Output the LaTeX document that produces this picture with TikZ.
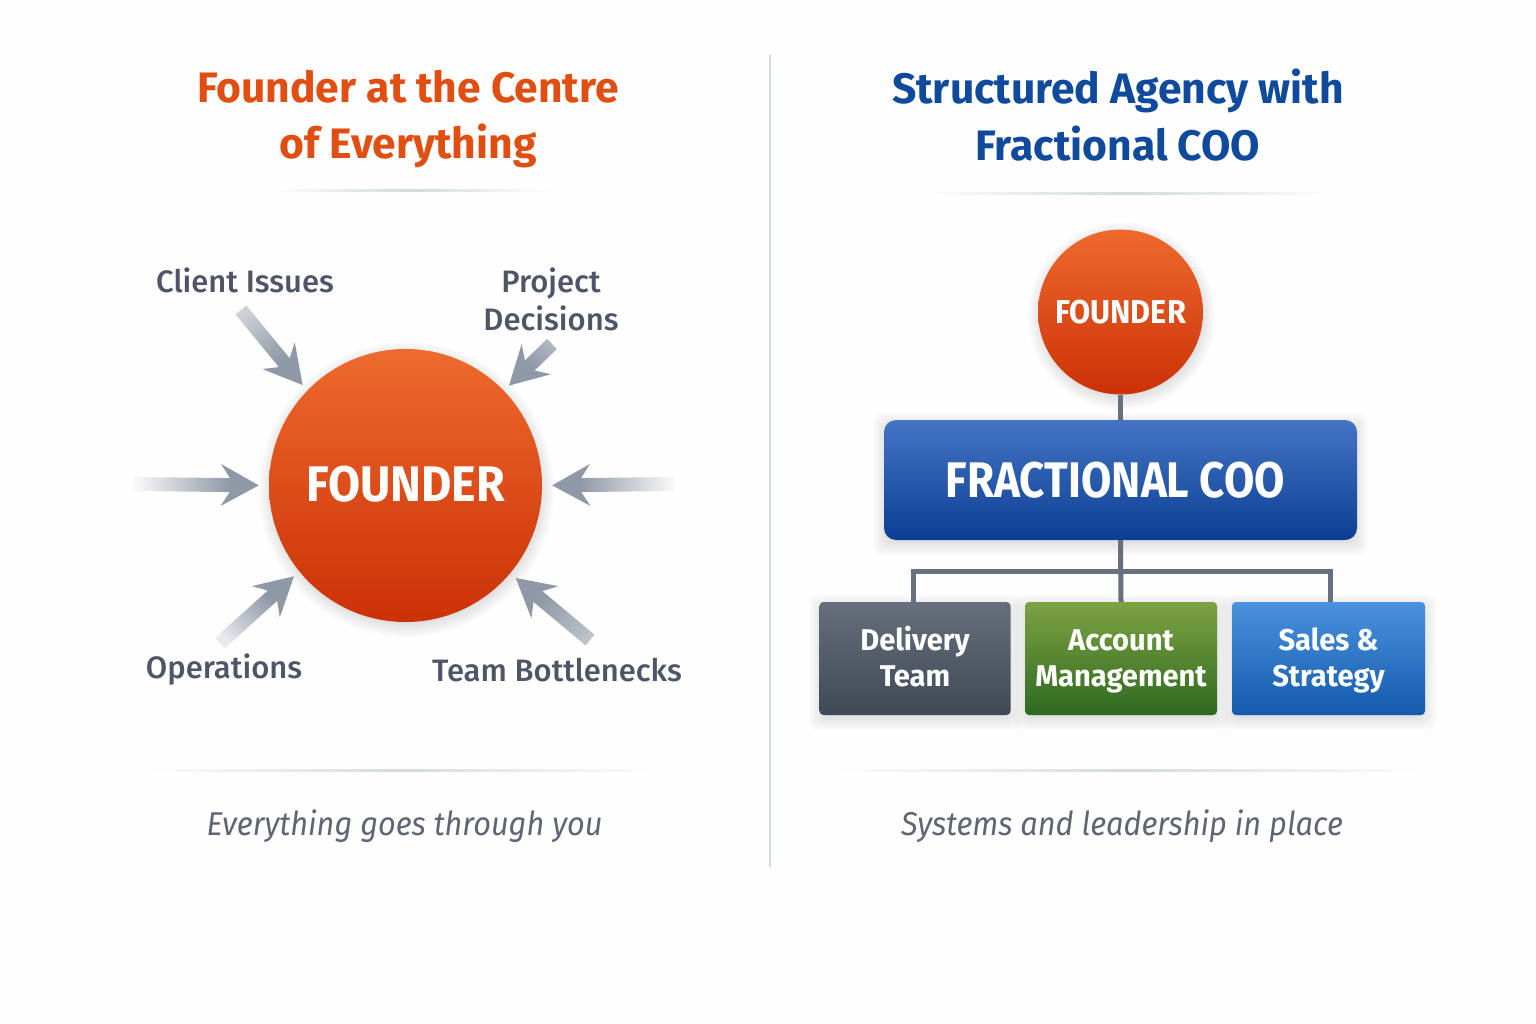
\documentclass[tikz,border=0pt]{standalone}
\usepackage{fontspec}
\setmainfont{Fira Sans}
\newfontfamily\labelfont{Fira Sans Medium}
\newfontfamily\ballfont[FakeStretch=0.93]{Fira Sans}
\newfontfamily\boxfont[FakeStretch=0.97]{Fira Sans}
\newfontfamily\coofont[FakeStretch=0.88]{Fira Sans}
\usepackage{tikz}
\usetikzlibrary{calc}
\definecolor{pagewhite}{RGB}{254,254,254}
\definecolor{titleorange}{RGB}{224,78,18}
\definecolor{titleblue}{RGB}{15,74,156}
\definecolor{labelgray}{RGB}{77,86,103}
\definecolor{taggray}{RGB}{95,102,115}
\definecolor{arrowgray}{RGB}{143,152,166}
\definecolor{linkgray}{RGB}{102,112,127}
\definecolor{rulegray}{RGB}{213,218,224}
\definecolor{balltop}{RGB}{238,106,46}
\definecolor{ballbottom}{RGB}{203,49,6}
\definecolor{cootop}{RGB}{68,116,196}
\definecolor{coobottom}{RGB}{11,63,148}
\definecolor{deliverytop}{RGB}{103,111,124}
\definecolor{deliverybottom}{RGB}{63,72,85}
\definecolor{accounttop}{RGB}{125,162,67}
\definecolor{accountbottom}{RGB}{46,106,32}
\definecolor{salestop}{RGB}{74,146,221}
\definecolor{salesbottom}{RGB}{19,90,173}
\newcommand{\boxstrut}{\rule{0pt}{31pt}}

\begin{document}
\begin{tikzpicture}[
                x=1pt, y=-1pt,
                shadowlayer/.style={fill=black, opacity=0.016},
                bigball/.style={shape=circle, inner sep=0pt, text=white, top color=balltop, bottom color=ballbottom},
                orgbox/.style={shape=rectangle, rounded corners=4pt, inner sep=0pt, text=white, align=center,
                               font=\boxfont\bfseries\fontsize{30}{36}\selectfont},
                titletext/.style={align=center, font=\bfseries\fontsize{42.6}{56.5}\selectfont},
                sidelabel/.style={align=center, text=labelgray, font=\labelfont\fontsize{31}{38}\selectfont},
                tagtext/.style={text=taggray, font=\ballfont\itshape\fontsize{33}{40}\selectfont},
                linkline/.style={draw=linkgray, line width=5pt},
                thinrule/.style={left color=pagewhite, right color=pagewhite, middle color=rulegray},
                pusharrow/.pic={
                    \pgfmathsetmacro\shadeang{\n1+90}
                    \shade[left color=arrowgray!\fadeval!white, right color=arrowgray, shading angle=\shadeang] (0,-7) rectangle ({#1-27},7);
                    \fill[arrowgray] (#1,0) -- ({#1-38},-21) -- ({#1-29},-7) -- ({#1-29},7) -- ({#1-38},21) -- cycle;
                }
                ]
                \useasboundingbox (0,0) rectangle (1536,1024);
                \fill[pagewhite] (0,0) rectangle (1536,1024);

                %% Rules
                \fill[rulegray] (769,55) rectangle (771,867);
                \shade[thinrule] (270,190) rectangle (552,192);
                \shade[thinrule] (915,193) rectangle (1340,195);
                \shade[thinrule] (140,769) rectangle (662,771);
                \shade[thinrule] (830,769) rectangle (1428,771);

                %% Titles
                \node[titletext, text=titleorange] (lefttitle) at (408,119) {Founder at the Centre\\of Everything};
                \node[titletext, text=titleblue] (righttitle) at (1118,115) {Structured Agency with\\Fractional COO};

                %% Soft shadows
                \foreach \grow in {-3,-1,...,11} {
                    \fill[shadowlayer] (406.5,489.5) circle ({136.5+\grow});
                    \fill[shadowlayer] (1121.5,316) circle ({82.5+\grow});
                    \foreach \xa/\ya/\xb/\yb in {884/424/1357/544, 820/606/1010/719, 1025/606/1217/719, 1232/606/1425/719} {
                        \fill[shadowlayer, rounded corners=8pt] ({\xa-\grow},{\ya-\grow}) rectangle ({\xb+\grow},{\yb+\grow});
                    }
                }

                %% Left side
                \node[bigball, minimum size=273pt, font=\ballfont\bfseries\fontsize{50}{60}\selectfont] (founderbig) at (405.5,485.5) {\raisebox{4pt}{FOUNDER}};

                \node[sidelabel] (clientlabel) at (245,280) {Client Issues};
                \node[sidelabel] (projectlabel) at (551,299) {Project\\Decisions};
                \node[sidelabel] (opslabel) at (224,670) {Operations};
                \node[sidelabel] (teamlabel) at (557,670) {Team Bottlenecks};

                \coordinate (startclient) at (241,310);
                \coordinate (startproject) at (552,344);
                \coordinate (startleft) at (133,484);
                \coordinate (startright) at (675,484);
                \coordinate (startops) at (220,643);
                \coordinate (startteam) at (590,640);

                % Arrows stop a little short of the ball
                \foreach \startname/\ang/\gap/\fadeval in {startclient/136/7/45, startproject/44/7/70, startleft/180/10/5,
                                                           startright/0/10/5, startops/219/7/20, startteam/320/7/60} {
                    \path let \p1=($(founderbig.\ang)-(\startname)$), \n1={atan2(\y1,\x1)}, \n2={veclen(\x1,\y1)-\gap}
                        in (\startname) pic[rotate=\n1] {pusharrow={\n2}};
                }

                %% Right side
                \node[bigball, minimum size=165pt, font=\ballfont\bfseries\fontsize{33}{40}\selectfont] (foundersmall) at (1120.5,312) {FOUNDER};

                \node[orgbox, rounded corners=12pt, minimum width=473pt, minimum height=120pt,
                      top color=cootop, bottom color=coobottom,
                      font=\coofont\bfseries\fontsize{50}{60}\selectfont] (coo) at (1120.5,480) {FRACTIONAL COO\hspace{10pt}};

                \node[orgbox, minimum width=191pt, minimum height=113pt, top color=deliverytop, bottom color=deliverybottom] (delivery) at (915,658.5) {\boxstrut Delivery\\\strut Team};
                \node[orgbox, minimum width=192pt, minimum height=113pt, top color=accounttop, bottom color=accountbottom] (account) at (1121,658.5) {\boxstrut Account\\\strut Management};
                \node[orgbox, minimum width=193pt, minimum height=113pt, top color=salestop, bottom color=salesbottom] (sales) at (1328.5,658.5) {\boxstrut Sales \&\\\strut Strategy};

                \coordinate (busbar) at (1120.5,571);
                \draw[linkline] (foundersmall.south) -- (coo.north);
                \draw[linkline] (coo.south) -- (account.north);
                \draw[linkline] ([xshift=-2pt]delivery.north) |- (busbar) -| ([xshift=1.5pt]sales.north);

                %% Taglines
                \node[tagtext] (lefttag) at (404.5,826) {Everything goes through you};
                \node[tagtext] (righttag) at (1122,826) {Systems and leadership in place};
\end{tikzpicture}
\end{document}
